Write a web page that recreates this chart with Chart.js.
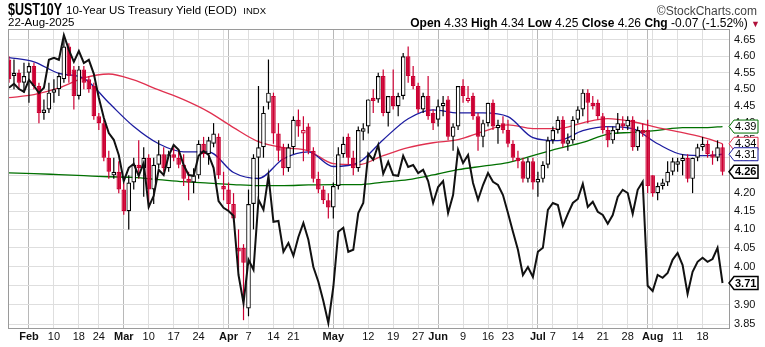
<!DOCTYPE html>
<html><head><meta charset="utf-8">
<script src="https://cdn.jsdelivr.net/npm/chart.js@4.4.1/dist/chart.umd.min.js"></script>
<style>
html,body{margin:0;padding:0;background:#fff;width:765px;height:347px;overflow:hidden;}
#wrap{position:relative;width:765px;height:347px;font-family:"Liberation Sans",Arial,sans-serif;color:#000;}
canvas{position:absolute;left:0;top:0;}
.h{position:absolute;white-space:nowrap;line-height:1;}
.sx{display:inline-block;transform-origin:0 0;}
</style></head><body>
<div id="wrap">
<canvas id="c" width="765" height="347"></canvas>
<div class="h" style="left:8px;top:2px;font-size:16px;font-weight:bold;"><span class="sx" style="transform:scaleX(0.78);">$UST10Y</span></div>
<div class="h" style="left:66px;top:5px;font-size:11.5px;">10-Year US Treasury Yield (EOD) &nbsp;<span style="font-size:9.5px;">INDX</span></div>
<div class="h" style="right:8px;top:5px;font-size:12px;color:#444;">&copy;StockCharts.com</div>
<div class="h" style="left:8px;top:17px;font-size:11.5px;">22-Aug-2025</div>
<div class="h" style="right:5px;top:17px;font-size:12px;"><b>Open</b> 4.33 <b>High</b> 4.34 <b>Low</b> 4.25 <b>Close</b> 4.26 <b>Chg</b> -0.07 (-1.52%) <span style="color:#b0103a;font-size:9px;">&#9660;</span></div>
</div>
<script>
const dates = [
"2025-01-28","2025-01-29","2025-01-30","2025-01-31",
"2025-02-03","2025-02-04","2025-02-05","2025-02-06","2025-02-07","2025-02-10","2025-02-11","2025-02-12","2025-02-13","2025-02-14","2025-02-18","2025-02-19","2025-02-20","2025-02-21","2025-02-24","2025-02-25","2025-02-26","2025-02-27","2025-02-28",
"2025-03-03","2025-03-04","2025-03-05","2025-03-06","2025-03-07","2025-03-10","2025-03-11","2025-03-12","2025-03-13","2025-03-14","2025-03-17","2025-03-18","2025-03-19","2025-03-20","2025-03-21","2025-03-24","2025-03-25","2025-03-26","2025-03-27","2025-03-28","2025-03-31",
"2025-04-01","2025-04-02","2025-04-03","2025-04-04","2025-04-07","2025-04-08","2025-04-09","2025-04-10","2025-04-11","2025-04-14","2025-04-15","2025-04-16","2025-04-17","2025-04-21","2025-04-22","2025-04-23","2025-04-24","2025-04-25","2025-04-28","2025-04-29","2025-04-30",
"2025-05-01","2025-05-02","2025-05-05","2025-05-06","2025-05-07","2025-05-08","2025-05-09","2025-05-12","2025-05-13","2025-05-14","2025-05-15","2025-05-16","2025-05-19","2025-05-20","2025-05-21","2025-05-22","2025-05-23","2025-05-27","2025-05-28","2025-05-29","2025-05-30",
"2025-06-02","2025-06-03","2025-06-04","2025-06-05","2025-06-06","2025-06-09","2025-06-10","2025-06-11","2025-06-12","2025-06-13","2025-06-16","2025-06-17","2025-06-18","2025-06-20","2025-06-23","2025-06-24","2025-06-25","2025-06-26","2025-06-27","2025-06-30",
"2025-07-01","2025-07-02","2025-07-03","2025-07-07","2025-07-08","2025-07-09","2025-07-10","2025-07-11","2025-07-14","2025-07-15","2025-07-16","2025-07-17","2025-07-18","2025-07-21","2025-07-22","2025-07-23","2025-07-24","2025-07-25","2025-07-28","2025-07-29","2025-07-30","2025-07-31",
"2025-08-01","2025-08-04","2025-08-05","2025-08-06","2025-08-07","2025-08-08","2025-08-11","2025-08-12","2025-08-13","2025-08-14","2025-08-15","2025-08-18","2025-08-19","2025-08-20","2025-08-21","2025-08-22"];

const open = [4.59,4.54,4.55,4.52,4.55,4.57,4.51,4.43,4.44,4.49,
4.50,4.53,4.63,4.56,4.48,4.56,4.53,4.51,4.42,4.40,
4.30,4.25,4.26,4.21,4.15,4.23,4.28,4.27,4.30,4.21,
4.28,4.31,4.27,4.31,4.30,4.28,4.24,4.23,4.25,4.34,
4.31,4.34,4.36,4.22,4.21,4.17,4.05,4.05,3.89,4.17,
4.30,4.33,4.46,4.48,4.37,4.33,4.27,4.33,4.41,4.37,
4.39,4.32,4.24,4.21,4.18,4.16,4.22,4.31,4.36,4.30,
4.27,4.375,4.39,4.475,4.47,4.54,4.43,4.48,4.45,4.48,
4.60,4.54,4.51,4.44,4.48,4.43,4.41,4.45,4.47,4.36,
4.39,4.51,4.465,4.48,4.42,4.36,4.40,4.46,4.385,4.40,
4.38,4.34,4.30,4.29,4.24,4.29,4.23,4.24,4.28,4.35,
4.38,4.41,4.34,4.35,4.41,4.44,4.49,4.46,4.46,4.42,
4.38,4.35,4.38,4.40,4.39,4.41,4.33,4.38,4.38,4.25,
4.20,4.22,4.23,4.26,4.28,4.29,4.30,4.24,4.30,4.33,
4.34,4.31,4.30,4.33];
const high = [4.60,4.59,4.56,4.58,4.58,4.58,4.52,4.47,4.52,4.53,
4.55,4.66,4.64,4.57,4.57,4.57,4.54,4.52,4.43,4.41,
4.32,4.30,4.29,4.23,4.25,4.30,4.35,4.33,4.31,4.30,
4.35,4.33,4.32,4.33,4.32,4.31,4.26,4.27,4.35,4.36,
4.36,4.40,4.37,4.26,4.23,4.20,4.10,4.06,4.21,4.31,
4.51,4.45,4.59,4.49,4.40,4.34,4.34,4.42,4.44,4.42,
4.40,4.33,4.26,4.22,4.20,4.23,4.33,4.36,4.37,4.32,
4.39,4.40,4.47,4.50,4.55,4.56,4.48,4.56,4.49,4.61,
4.63,4.57,4.52,4.49,4.54,4.44,4.47,4.48,4.48,4.40,
4.51,4.53,4.51,4.49,4.43,4.41,4.46,4.47,4.41,4.42,
4.41,4.35,4.32,4.30,4.30,4.30,4.26,4.29,4.36,4.39,
4.42,4.42,4.37,4.42,4.45,4.50,4.50,4.48,4.47,4.43,
4.39,4.39,4.43,4.42,4.42,4.42,4.39,4.40,4.41,4.25,
4.23,4.24,4.29,4.30,4.30,4.31,4.31,4.30,4.34,4.36,
4.35,4.32,4.35,4.34];
const low = [4.52,4.50,4.50,4.49,4.46,4.50,4.40,4.41,4.43,4.46,
4.48,4.52,4.52,4.44,4.47,4.50,4.49,4.41,4.38,4.29,
4.24,4.24,4.20,4.14,4.10,4.21,4.24,4.19,4.16,4.17,
4.27,4.26,4.26,4.29,4.27,4.22,4.18,4.20,4.24,4.30,
4.28,4.33,4.24,4.18,4.15,4.12,3.99,3.86,3.87,4.10,
4.18,4.30,4.44,4.34,4.29,4.25,4.26,4.31,4.36,4.29,
4.31,4.23,4.20,4.17,4.13,4.13,4.21,4.30,4.28,4.25,
4.26,4.35,4.37,4.43,4.46,4.42,4.39,4.44,4.42,4.47,
4.52,4.50,4.43,4.43,4.41,4.38,4.39,4.42,4.35,4.32,
4.38,4.46,4.46,4.41,4.32,4.33,4.39,4.38,4.34,4.37,
4.33,4.29,4.27,4.23,4.23,4.21,4.19,4.23,4.27,4.34,
4.37,4.33,4.32,4.34,4.40,4.42,4.40,4.44,4.41,4.37,
4.33,4.34,4.37,4.38,4.38,4.32,4.32,4.36,4.20,4.19,
4.18,4.21,4.22,4.25,4.26,4.25,4.23,4.20,4.29,4.32,
4.30,4.28,4.29,4.25];
const close = [4.53,4.55,4.52,4.54,4.57,4.51,4.43,4.44,4.49,4.50,
4.54,4.63,4.54,4.48,4.56,4.52,4.50,4.42,4.40,4.30,
4.26,4.26,4.21,4.15,4.23,4.28,4.27,4.30,4.21,4.28,
4.31,4.27,4.31,4.30,4.28,4.24,4.23,4.25,4.34,4.31,
4.35,4.37,4.25,4.21,4.17,4.13,4.04,4.01,4.17,4.30,
4.33,4.43,4.49,4.37,4.32,4.27,4.33,4.41,4.39,4.38,
4.32,4.24,4.21,4.18,4.16,4.22,4.31,4.34,4.30,4.27,
4.38,4.385,4.47,4.465,4.54,4.43,4.48,4.45,4.48,4.60,
4.54,4.51,4.44,4.48,4.42,4.40,4.45,4.46,4.36,4.39,
4.51,4.48,4.475,4.42,4.36,4.40,4.46,4.39,4.395,4.38,
4.34,4.30,4.29,4.24,4.29,4.23,4.24,4.28,4.35,4.38,
4.41,4.34,4.35,4.41,4.44,4.49,4.46,4.45,4.42,4.38,
4.35,4.38,4.40,4.39,4.41,4.33,4.38,4.37,4.22,4.20,
4.22,4.23,4.26,4.29,4.29,4.30,4.24,4.30,4.33,4.34,
4.31,4.30,4.33,4.26];

// 2-year yield overlay (own scale)
const ust2y = [4.198,4.208,4.195,4.188,4.218,4.203,4.185,4.198,4.268,4.273,
4.268,4.330,4.293,4.263,4.290,4.260,4.268,4.233,4.173,4.123,
4.085,4.068,4.030,3.965,3.998,4.008,3.978,4.010,3.900,3.928,
3.993,3.980,4.028,4.055,4.043,4.005,3.980,3.978,4.028,4.040,
4.030,3.998,3.915,3.898,3.890,3.878,3.730,3.660,3.768,3.743,
3.918,3.893,3.978,3.863,3.865,3.788,3.810,3.778,3.825,3.860,
3.818,3.750,3.713,3.665,3.610,3.700,3.838,3.848,3.788,3.793,
3.885,3.910,4.033,4.018,4.055,3.983,4.013,3.980,3.978,4.028,
4.000,4.005,3.985,3.993,3.965,3.910,3.950,3.965,3.885,3.930,
4.043,4.010,4.030,3.960,3.918,3.955,3.985,3.963,3.955,3.930,
3.885,3.838,3.793,3.730,3.750,3.725,3.788,3.798,3.893,3.910,
3.905,3.853,3.883,3.910,3.920,3.958,3.900,3.913,3.888,3.880,
3.858,3.880,3.925,3.943,3.935,3.883,3.943,3.963,3.703,3.690,
3.730,3.723,3.735,3.768,3.785,3.755,3.683,3.738,3.763,3.773,
3.763,3.770,3.798,3.710];

// moving averages at these dates
const maDates = ["2025-01-28","2025-02-04","2025-02-11","2025-02-19","2025-02-26","2025-03-05","2025-03-12","2025-03-19","2025-03-26","2025-04-02",
"2025-04-09","2025-04-16","2025-04-24","2025-05-01","2025-05-08","2025-05-15","2025-05-22","2025-05-30","2025-06-06","2025-06-13",
"2025-06-23","2025-06-30","2025-07-08","2025-07-15","2025-07-22","2025-07-29","2025-08-05","2025-08-12","2025-08-19","2025-08-22"];
const ma20 = [4.596,4.583,4.548,4.533,4.460,4.390,4.340,4.317,4.317,4.258,
4.241,4.297,4.317,4.275,4.286,4.352,4.413,4.439,4.430,4.430,
4.419,4.358,4.349,4.378,4.390,4.384,4.340,4.309,4.306,4.31];
const ma50 = [4.475,4.484,4.504,4.534,4.546,4.528,4.498,4.469,4.433,4.387,
4.346,4.329,4.320,4.283,4.280,4.306,4.329,4.343,4.352,4.375,
4.395,4.384,4.384,4.401,4.413,4.404,4.387,4.372,4.355,4.34];
const ma200 = [4.257,4.255,4.252,4.249,4.246,4.244,4.238,4.232,4.228,4.224,
4.221,4.221,4.223,4.224,4.224,4.231,4.238,4.251,4.266,4.276,
4.286,4.306,4.326,4.344,4.368,4.373,4.379,4.387,4.387,4.39];

const yTicks = [3.85,3.90,3.95,4.00,4.05,4.10,4.15,4.20,4.25,4.30,4.35,4.40,4.45,4.50,4.55,4.60,4.65];
const xTickDates = ["2025-02-03","2025-02-10","2025-02-18","2025-02-24",
"2025-03-03","2025-03-10","2025-03-17","2025-03-24","2025-03-31",
"2025-04-01","2025-04-07","2025-04-14","2025-04-21","2025-04-28",
"2025-05-01","2025-05-05","2025-05-12","2025-05-19","2025-05-27",
"2025-06-02","2025-06-09","2025-06-16","2025-06-23","2025-06-30",
"2025-07-01","2025-07-07","2025-07-14","2025-07-21","2025-07-28",
"2025-08-01","2025-08-04","2025-08-11","2025-08-18"];
const xTickLabels = ["Feb","10","18","24",
"Mar","10","17","24","",
"Apr","7","14","21","",
"May","","12","19","27",
"Jun","9","16","23","",
"Jul","7","14","21","28",
"","Aug","11","18"];
const monthStartDates = ["2025-02-03","2025-03-03","2025-04-01","2025-05-01","2025-06-02","2025-07-01","2025-08-01"];

const RED = '#cc0033', BLACK = '#000000';
// date -> position on the trading-day axis (compare by digits only, robust to stray characters)
const key = s => String(s).replace(/[^0-9]/g, '');
const dateKeys = dates.map(key);
const idx = d => dateKeys.indexOf(key(d));
const xTickIdx = xTickDates.map(idx);
const monthIdx = new Set(monthStartDates.map(idx));
const isMonthLabel = s => /^[A-Z]/.test(s || '');

const candleColor = close.map((c, i) => (i === 0 ? RED : (c < close[i-1] ? RED : BLACK)));
const candleFill = close.map((c, i) => (c < open[i] ? candleColor[i] : '#ffffff'));

const wickData = dates.map((d, i) => ({x: i, y: [low[i], high[i]]}));
const bodyData = dates.map((d, i) => ({x: i, y: [open[i], close[i]]}));
const maPts = arr => maDates.map((d, k) => ({x: idx(d), y: arr[k]}));
const y2Data = dates.map((d, i) => ({x: i, y: ust2y[i]}));

const FONT = '"Liberation Sans", Arial, sans-serif';

function drawTag(ctx, area, y, text, color, bold) {
  const x0 = area.right - 1, x1 = x0 + 5, x2 = x0 + 29, h = 6.5;
  ctx.save();
  ctx.beginPath();
  ctx.moveTo(x0, y); ctx.lineTo(x1, y - h); ctx.lineTo(x2, y - h); ctx.lineTo(x2, y + h); ctx.lineTo(x1, y + h); ctx.closePath();
  ctx.fillStyle = '#fff'; ctx.fill();
  ctx.lineWidth = bold ? 1.5 : 1; ctx.strokeStyle = color; ctx.stroke();
  ctx.fillStyle = '#000';
  ctx.font = (bold ? 'bold ' : '') + '11px ' + FONT;
  ctx.textBaseline = 'middle'; ctx.textAlign = 'left';
  ctx.fillText(text, x1 + 1, y + 0.5);
  ctx.restore();
}

const framePlugin = {
  id: 'frame',
  afterDraw(chart) {
    const {ctx, chartArea: a, scales} = chart;
    ctx.save();
    ctx.strokeStyle = '#9a9a9a'; ctx.lineWidth = 1;
    ctx.strokeRect(a.left + 0.5, a.top + 0.5, a.right - a.left - 1, a.bottom - a.top);
    ctx.fillStyle = '#111'; ctx.textAlign = 'center'; ctx.textBaseline = 'middle';
    xTickIdx.forEach((v, k) => {
      const t = xTickLabels[k];
      if (!t || v < 0) return;
      ctx.font = (isMonthLabel(t) ? 'bold ' : '') + '11px ' + FONT;
      ctx.fillText(t, scales.x.getPixelForValue(v), a.bottom + 8.5);
    });
    ctx.restore();
    const y = scales.y, y2 = scales.y2;
    drawTag(ctx, a, y.getPixelForValue(ma200[ma200.length-1]), ma200[ma200.length-1].toFixed(2), '#007000', false);
    drawTag(ctx, a, y.getPixelForValue(ma50[ma50.length-1]), ma50[ma50.length-1].toFixed(2), '#e0304f', false);
    drawTag(ctx, a, y.getPixelForValue(ma20[ma20.length-1]), ma20[ma20.length-1].toFixed(2), '#1c1ca0', false);
    drawTag(ctx, a, y.getPixelForValue(close[close.length-1]), close[close.length-1].toFixed(2), '#000', true);
    drawTag(ctx, a, y2.getPixelForValue(ust2y[ust2y.length-1]), ust2y[ust2y.length-1].toFixed(2), '#000', true);
  }
};

new Chart(document.getElementById('c'), {
  type: 'bar',
  data: {
    datasets: [
      {type: 'line', label: 'MA200', data: maPts(ma200), borderColor: '#007000', borderWidth: 1.3, pointRadius: 0, cubicInterpolationMode: 'monotone', yAxisID: 'y', order: 8},
      {type: 'line', label: 'MA50', data: maPts(ma50), borderColor: '#e0304f', borderWidth: 1.3, pointRadius: 0, cubicInterpolationMode: 'monotone', yAxisID: 'y', order: 7},
      {type: 'line', label: 'MA20', data: maPts(ma20), borderColor: '#1c1ca0', borderWidth: 1.3, pointRadius: 0, cubicInterpolationMode: 'monotone', yAxisID: 'y', order: 6},
      {type: 'bar', label: 'wick', data: wickData, backgroundColor: candleColor, borderWidth: 0, barThickness: 1.2, grouped: false, inflateAmount: 0, yAxisID: 'y', order: 4},
      {type: 'bar', label: 'body', data: bodyData, backgroundColor: candleFill, borderColor: candleColor, borderWidth: 1.2, borderSkipped: false, barThickness: 4.6, minBarLength: 1.5, grouped: false, inflateAmount: 0, yAxisID: 'y', order: 3},
      {type: 'line', label: 'UST2Y', data: y2Data, borderColor: '#111', borderWidth: 2, pointRadius: 0, tension: 0, yAxisID: 'y2', order: 1}
    ]
  },
  options: {
    responsive: false, animation: false, devicePixelRatio: 1,
    layout: {padding: {left: 8, top: 29, right: 0, bottom: 0}},
    plugins: {legend: {display: false}, tooltip: {enabled: false}},
    scales: {
      x: {
        type: 'linear', min: -0.2, max: 144.5, offset: false,
        afterBuildTicks: s => { s.ticks = xTickIdx.filter(v => v >= 0).map(v => ({value: v})); },
        afterFit: s => { s.height = 19; },
        grid: {offset: false, drawTicks: false, color: c => (c.tick && monthIdx.has(c.tick.value) ? '#b8b8b8' : '#dedede')},
        border: {display: false},
        ticks: {autoSkip: false, maxRotation: 0, minRotation: 0, padding: 2, callback: () => ''}
      },
      y: {
        type: 'logarithmic', position: 'right', min: 3.842, max: 4.684,
        afterBuildTicks: s => { s.ticks = yTicks.map(v => ({value: v})); },
        afterFit: s => { s.width = 35; },
        grid: {drawTicks: false, color: '#dedede'},
        border: {display: false},
        ticks: {padding: 4, color: '#111', font: {family: FONT, size: 11}, callback: v => Number(v).toFixed(2)}
      },
      y2: {type: 'linear', display: false, min: 3.5975, max: 4.345, beginAtZero: false}
    }
  },
  plugins: [framePlugin]
});
</script>
</body></html>
